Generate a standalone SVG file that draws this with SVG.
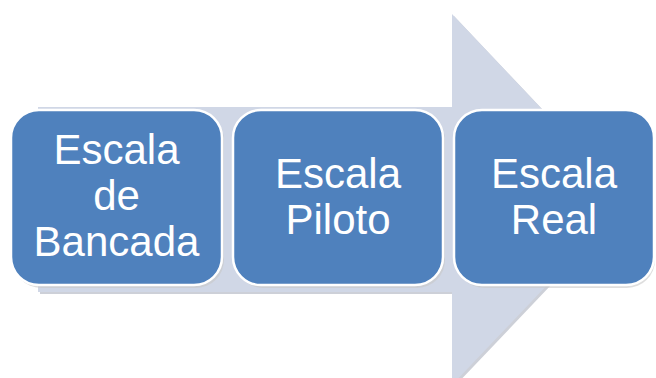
<svg xmlns="http://www.w3.org/2000/svg" width="656" height="378" viewBox="0 0 656 378">
  <style>
    .box { fill: #4F81BD; stroke: #FFFFFF; stroke-width: 2.5; }
    .shadow { fill: #C8C8C8; opacity: 0.6; }
    .label { fill: #FFFFFF; font-family: "Liberation Sans", Arial, sans-serif; font-size: 42px; text-anchor: middle; }
  </style>
  <rect width="656" height="378" fill="#FFFFFF"/>
  <g id="arrow">
    <polygon points="40,109 454,109 454,16 630,202 454,387 454,294 40,294" fill="#B8BCC8" opacity="0.7"/>
    <polygon points="38,107 452,107 452,14 628,200 452,385 452,292 38,292" fill="#D0D7E6"/>
  </g>
  <g id="node-bancada">
    <rect class="shadow" x="13" y="112" width="211" height="176" rx="28"/>
    <rect class="box" x="11" y="110" width="211" height="175" rx="28"/>
    <text class="label" x="116.5" y="164">Escala</text>
    <text class="label" x="116.5" y="210">de</text>
    <text class="label" x="116.5" y="256">Bancada</text>
  </g>
  <g id="node-piloto">
    <rect class="shadow" x="235" y="112" width="210" height="176" rx="28"/>
    <rect class="box" x="233" y="110" width="210" height="175" rx="28"/>
    <text class="label" x="338" y="188">Escala</text>
    <text class="label" x="338" y="234">Piloto</text>
  </g>
  <g id="node-real">
    <rect class="shadow" x="456" y="112" width="199" height="176" rx="28"/>
    <rect class="box" x="454" y="110" width="200" height="175" rx="28"/>
    <text class="label" x="554" y="188">Escala</text>
    <text class="label" x="554" y="234">Real</text>
  </g>
  <g id="connectors"></g>
</svg>
